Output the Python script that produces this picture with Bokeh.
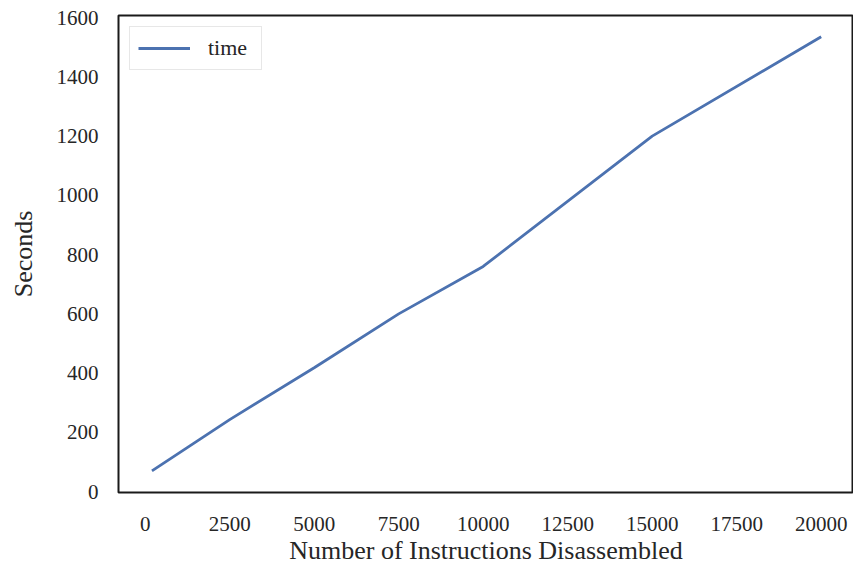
from bokeh.plotting import figure
from bokeh.models import Range1d, Legend, LegendItem, FixedTicker
from bokeh.embed import file_html
from bokeh.resources import INLINE

instructions = [200, 2500, 5000, 7500, 10000, 15000, 20000]
seconds = [70, 243, 418, 600, 760, 1200, 1535]
x_ticks = [0, 2500, 5000, 7500, 10000, 12500, 15000, 17500, 20000]
y_ticks = [0, 200, 400, 600, 800, 1000, 1200, 1400, 1600]

FONT = "Liberation Serif"
TXT = "#262626"

p = figure(width=853, height=568, output_backend="svg", toolbar_location=None,
           x_range=Range1d(-790, 20956), y_range=Range1d(-3, 1607),
           min_border_left=118, min_border_right=0, min_border_top=15, min_border_bottom=76)
p.background_fill_color = "white"
p.border_fill_color = "white"
p.outline_line_color = "#1a1a1a"
p.outline_line_width = 2
p.xgrid.visible = False
p.ygrid.visible = False

r = p.line(instructions, seconds, line_color="#4C72B0", line_width=2.8)

for ax, ticks in ((p.xaxis[0], x_ticks), (p.yaxis[0], y_ticks)):
    ax.ticker = FixedTicker(ticks=ticks)
    ax.axis_line_color = None
    ax.major_tick_line_color = None
    ax.minor_tick_line_color = None
    ax.major_tick_in = 0
    ax.major_tick_out = 0
    ax.minor_tick_in = 0
    ax.minor_tick_out = 0
    ax.major_label_text_font = FONT
    ax.major_label_text_font_size = "21px"
    ax.major_label_text_color = TXT
    ax.axis_label_text_font = FONT
    ax.axis_label_text_font_size = "26px"
    ax.axis_label_text_font_style = "normal"
    ax.axis_label_text_color = TXT

p.xaxis.axis_label = "Number of Instructions Disassembled"
p.yaxis.axis_label = "Seconds"
p.xaxis.major_label_standoff = 24
p.yaxis.major_label_standoff = 20
p.xaxis.axis_label_standoff = 2
p.yaxis.axis_label_standoff = 16

legend = Legend(items=[LegendItem(label="time", renderers=[r])], location="top_left")
legend.label_text_font = FONT
legend.label_text_font_size = "22px"
legend.label_text_color = TXT
legend.border_line_color = "#d0d0d0"
legend.border_line_width = 1
legend.margin = 11
legend.padding = 8
legend.glyph_width = 52
legend.label_standoff = 18
legend.label_width = 45
legend.background_fill_alpha = 0.8
p.add_layout(legend)

open("out.html", "w").write(file_html(p, INLINE))
